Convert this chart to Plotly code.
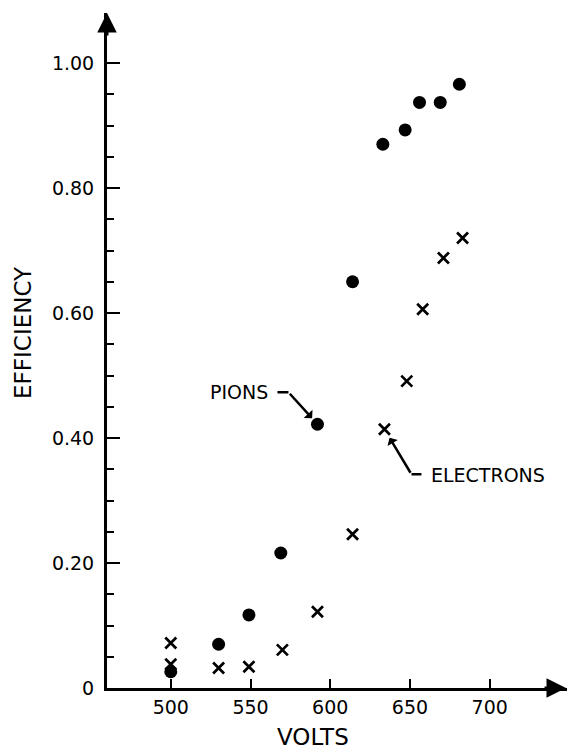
import plotly.graph_objects as go

# Data
pion_volts = [500, 530, 549, 569, 592, 614, 633, 647, 656, 669, 681]
pion_eff = [0.026, 0.070, 0.117, 0.216, 0.422, 0.650, 0.870, 0.893, 0.937, 0.937, 0.966]

electron_volts = [500, 500, 530, 549, 570, 592, 614, 634, 648, 658, 671, 683]
electron_eff = [0.072, 0.038, 0.032, 0.034, 0.061, 0.122, 0.246, 0.414, 0.491, 0.606, 0.688, 0.720]

x_ticks = [500, 550, 600, 650, 700]
y_ticks = [0, 0.2, 0.4, 0.6, 0.8, 1.0]
y_ticktext = ["0", "0.20", "0.40", "0.60", "0.80", "1.00"]
y_minor = [0.05, 0.10, 0.15, 0.25, 0.30, 0.35, 0.45, 0.50, 0.55,
           0.65, 0.70, 0.75, 0.85, 0.90, 0.95]

FONT = "DejaVu Sans"
X_RANGE = [460, 748.5]
Y_RANGE = [0, 1.08]

fig = go.Figure()
fig.add_trace(go.Scatter(
    x=pion_volts, y=pion_eff, mode="markers", name="PIONS",
    marker=dict(symbol="circle", size=13, color="black"),
    cliponaxis=False,
))
fig.add_trace(go.Scatter(
    x=electron_volts, y=electron_eff, mode="markers", name="ELECTRONS",
    marker=dict(symbol="x-thin", size=11, color="black",
                line=dict(width=2.7, color="black")),
    cliponaxis=False,
))

fig.update_layout(
    width=567, height=749,
    margin=dict(l=107, r=0, t=13, b=61),
    paper_bgcolor="white", plot_bgcolor="white",
    showlegend=False,
    font=dict(family=FONT, size=19, color="black"),
    xaxis=dict(
        range=X_RANGE, showgrid=False, zeroline=False,
        showline=True, linecolor="black", linewidth=3,
        tickmode="array", tickvals=x_ticks,
        ticks="inside", ticklen=9, tickwidth=2, tickcolor="black",
        tickfont=dict(family=FONT, size=19, color="black"),
        ticklabelstandoff=0,
    ),
    yaxis=dict(
        range=Y_RANGE, showgrid=False, zeroline=False,
        showline=True, linecolor="black", linewidth=3,
        tickmode="array", tickvals=y_ticks, ticktext=y_ticktext,
        ticks="inside", ticklen=13, tickwidth=2, tickcolor="black",
        tickfont=dict(family=FONT, size=19, color="black"),
        ticklabelstandoff=6,
        minor=dict(tickmode="array", tickvals=y_minor, ticks="inside",
                   ticklen=7, tickwidth=2, tickcolor="black"),
    ),
)

annotations = [
    # axis arrowheads
    dict(x=1, y=0, xref="paper", yref="y", ax=-24, ay=0, text="",
         showarrow=True, arrowhead=2, arrowsize=1.3, arrowwidth=3, arrowcolor="black"),
    dict(x=X_RANGE[0], y=1, xref="x", yref="paper", ax=0, ay=24, text="",
         showarrow=True, arrowhead=2, arrowsize=1.3, arrowwidth=3, arrowcolor="black"),
    # axis titles
    dict(x=0.448, y=0, xref="paper", yref="paper", xanchor="center", yanchor="middle",
         yshift=-49, text="VOLTS",
         showarrow=False, font=dict(family=FONT, size=23, color="black")),
    dict(x=0, y=0.526, xref="paper", yref="paper", xanchor="center", yanchor="middle",
         xshift=-84, text="EFFICIENCY",
         textangle=-90, showarrow=False, font=dict(family=FONT, size=23, color="black")),
    # PIONS label
    dict(x=pion_volts[4], y=pion_eff[4], xref="x", yref="y", text="PIONS",
         showarrow=False, xshift=-78, yshift=32, font=dict(family=FONT, size=19)),
    dict(x=pion_volts[4], y=pion_eff[4], xref="x", yref="y", text="",
         showarrow=True, ax=-29, ay=-32, standoff=8, arrowhead=1,
         arrowsize=0.8, arrowwidth=2.5, arrowcolor="black"),
    # ELECTRONS label
    dict(x=electron_volts[7], y=electron_eff[7], xref="x", yref="y", text="ELECTRONS",
         showarrow=False, xshift=104, yshift=-46, font=dict(family=FONT, size=19)),
    dict(x=electron_volts[7], y=electron_eff[7], xref="x", yref="y", text="",
         showarrow=True, ax=27, ay=45, standoff=10, arrowhead=1,
         arrowsize=0.8, arrowwidth=2.5, arrowcolor="black"),
]
fig.update_layout(annotations=annotations)

# short horizontal leader segments (pixel offsets relative to the labelled point)
fig.add_shape(type="line", xref="x", yref="y", xsizemode="pixel", ysizemode="pixel",
              xanchor=pion_volts[4], yanchor=pion_eff[4],
              x0=-40, x1=-29, y0=32, y1=32, line=dict(color="black", width=2.5))
fig.add_shape(type="line", xref="x", yref="y", xsizemode="pixel", ysizemode="pixel",
              xanchor=electron_volts[7], yanchor=electron_eff[7],
              x0=27, x1=37, y0=-45, y1=-45, line=dict(color="black", width=2.5))

fig.write_html("out.html")
